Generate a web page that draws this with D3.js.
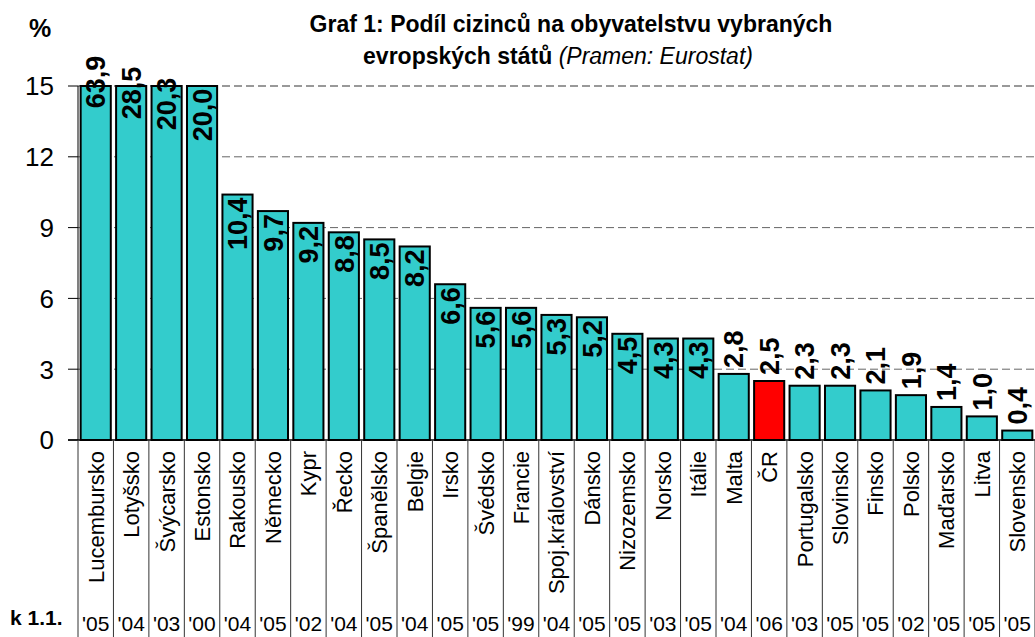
<!DOCTYPE html>
<html>
<head>
<meta charset="utf-8">
<script src="https://cdn.jsdelivr.net/npm/d3@7"></script>
<style>
  body { margin: 0; background: #fff; }
  svg { display: block; font-family: "Liberation Sans", Arial, sans-serif; }
</style>
</head>
<body>
<svg id="chart" width="1035" height="637"></svg>
<script>
// data
const categories = ['Lucembursko', 'Lotyšsko', 'Švýcarsko', 'Estonsko', 'Rakousko', 'Německo',
  'Kypr', 'Řecko', 'Španělsko', 'Belgie', 'Irsko', 'Švédsko', 'Francie', 'Spoj.království',
  'Dánsko', 'Nizozemsko', 'Norsko', 'Itálie', 'Malta', 'ČR', 'Portugalsko', 'Slovinsko',
  'Finsko', 'Polsko', 'Maďarsko', 'Litva', 'Slovensko'];
const values = [63.9, 28.5, 20.3, 20.0, 10.4, 9.7, 9.2, 8.8, 8.5, 8.2, 6.6, 5.6, 5.6, 5.3,
  5.2, 4.5, 4.3, 4.3, 2.8, 2.5, 2.3, 2.3, 2.1, 1.9, 1.4, 1.0, 0.4];
const years = ["'05", "'04", "'03", "'00", "'04", "'05", "'02", "'04", "'05", "'04", "'05",
  "'05", "'99", "'04", "'05", "'05", "'03", "'05", "'04", "'06", "'03", "'05", "'05", "'02",
  "'05", "'05", "'05"];
const yTicks = [0, 3, 6, 9, 12, 15];
const highlight = 'ČR';

(function draw() {
  const svg = d3.select('#chart');
  const W = 1035, H = 637;
  const plotLeft = 78, plotTop = 86, base = 440;

  // the last band runs right up to the page edge
  const x = d3.scaleBand()
    .domain(categories)
    .range([plotLeft, W])
    .paddingInner(0.15)
    .paddingOuter(0.075);
  const y = d3.scaleLinear().domain([0, 15]).range([base, plotTop]);
  const yMax = y.domain()[1];

  const data = categories.map((c, i) => ({ name: c, value: values[i], year: years[i], i }));
  const fmt = (v) => d3.format('.1f')(v).replace('.', ',');

  // dashed gridlines (behind bars)
  svg.append('g').attr('class', 'grid')
    .selectAll('line')
    .data(yTicks.filter((t) => t > 0))
    .join('line')
    .attr('x1', plotLeft).attr('x2', W)
    .attr('y1', (d) => y(d)).attr('y2', (d) => y(d))
    .attr('stroke', (d) => (d === yMax ? '#999' : '#666'))
    .attr('stroke-width', (d) => (d === yMax ? 2 : 1))
    .attr('stroke-dasharray', '8,4');

  // bars, cut off at the top of the axis
  svg.append('g').attr('class', 'bars')
    .selectAll('rect')
    .data(data)
    .join('rect')
    .attr('x', (d) => x(d.name))
    .attr('width', x.bandwidth())
    .attr('y', (d) => y(Math.min(d.value, yMax)))
    .attr('height', (d) => base - y(Math.min(d.value, yMax)))
    .attr('fill', (d) => (d.name === highlight ? '#ff0000' : '#33cccc'))
    .attr('stroke', '#000')
    .attr('stroke-width', 2);

  // axes
  const yAxis = svg.append('g').attr('class', 'y-axis');
  yAxis.append('line')
    .attr('x1', plotLeft).attr('x2', plotLeft)
    .attr('y1', plotTop).attr('y2', base)
    .attr('stroke', '#000');
  yAxis.selectAll('line.tick')
    .data(yTicks)
    .join('line')
    .attr('class', 'tick')
    .attr('x1', plotLeft - 10).attr('x2', plotLeft)
    .attr('y1', (d) => y(d)).attr('y2', (d) => y(d))
    .attr('stroke', '#000');
  yAxis.selectAll('text')
    .data(yTicks)
    .join('text')
    .attr('x', 54)
    .attr('y', (d) => y(d))
    .attr('dy', '0.36em')
    .attr('text-anchor', 'end')
    .attr('font-size', 26)
    .text((d) => d);

  svg.append('line')
    .attr('x1', plotLeft - 10).attr('x2', W)
    .attr('y1', base).attr('y2', base)
    .attr('stroke', '#000')
    .attr('stroke-width', 1.5);

  // category separators below the axis
  svg.append('g').attr('class', 'separators')
    .selectAll('line')
    .data(d3.range(categories.length + 1))
    .join('line')
    .attr('x1', (i) => plotLeft + i * x.step()).attr('x2', (i) => plotLeft + i * x.step())
    .attr('y1', base).attr('y2', H)
    .attr('stroke', '#333');

  const cx = (d) => x(d.name) + x.bandwidth() / 2;

  // category names, vertical
  svg.append('g').attr('class', 'cat-labels')
    .selectAll('text')
    .data(data)
    .join('text')
    .attr('transform', (d) => `translate(${cx(d)},${base + 11}) rotate(-90)`)
    .attr('dy', '0.36em')
    .attr('text-anchor', 'end')
    .attr('font-size', 22)
    .text((d) => d.name);

  // years
  svg.append('g').attr('class', 'year-labels')
    .selectAll('text')
    .data(data)
    .join('text')
    .attr('x', cx)
    .attr('y', 631)
    .attr('text-anchor', 'middle')
    .attr('font-size', 21)
    .text((d) => d.year);

  // value labels: inside the top of tall bars, above short ones,
  // straddling the axis top for the bars that run off the scale
  svg.append('g').attr('class', 'value-labels')
    .selectAll('text')
    .data(data)
    .join('text')
    .attr('transform', (d) => {
      let ty;
      if (d.value > yMax) ty = y(yMax) - 4 + d.i * 11;
      else if (d.value >= 3) ty = y(d.value) + 3;
      else ty = y(d.value) - 6;
      return `translate(${cx(d)},${ty}) rotate(-90)`;
    })
    .attr('dy', '0.36em')
    .attr('text-anchor', (d) => (d.value > yMax ? 'middle' : d.value >= 3 ? 'end' : 'start'))
    .attr('font-size', 27)
    .attr('font-weight', 'bold')
    .text((d) => fmt(d.value));

  // title and side notes
  const title = svg.append('text')
    .attr('text-anchor', 'middle')
    .attr('font-size', 23)
    .attr('font-weight', 'bold');
  title.append('tspan').attr('x', 571).attr('y', 32)
    .text('Graf 1: Podíl cizinců na obyvatelstvu vybraných');
  const line2 = title.append('tspan').attr('x', 558).attr('y', 64);
  line2.append('tspan').text('evropských států ');
  line2.append('tspan').attr('font-weight', 'normal').attr('font-style', 'italic')
    .text('(Pramen: Eurostat)');

  svg.append('text')
    .attr('x', 29).attr('y', 37)
    .attr('font-size', 25)
    .attr('font-weight', 'bold')
    .text('%');

  svg.append('text')
    .attr('x', 10).attr('y', 625)
    .attr('font-size', 21)
    .attr('font-weight', 'bold')
    .text('k 1.1.');
})();
</script>
</body>
</html>
